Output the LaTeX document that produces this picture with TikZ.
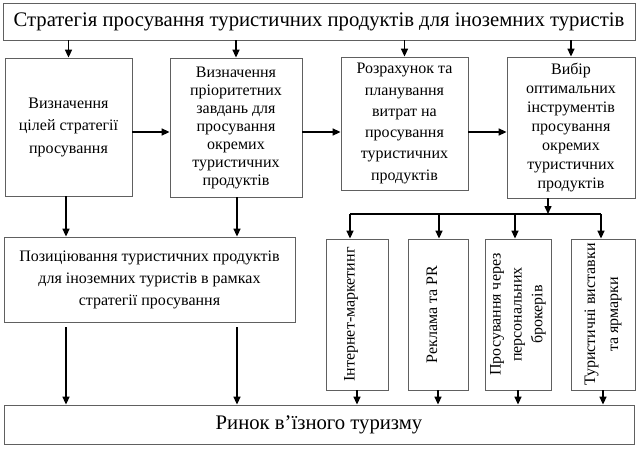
\documentclass[tikz,border=0pt]{standalone}
\usepackage{fontspec}
\setmainfont{Liberation Serif}
\usetikzlibrary{arrows.meta}
\definecolor{boxgray}{HTML}{606060}
\begin{document}
\begin{tikzpicture}[x=1pt,y=-1pt,
  box/.style={draw=boxgray, line width=0.8pt, fill=white, inner sep=2pt, align=center},
  txt/.style={font=\fontsize{16}{#1}\selectfont},
  big/.style={font=\fontsize{20.7}{23}\selectfont},
  arr/.style={line width=1.5pt, -{Triangle[length=8pt,width=7pt]}},
  ln/.style={line width=1.5pt}]
\useasboundingbox (0,0) rectangle (640,450);
% top and bottom
\node[box, big, minimum width=632pt, minimum height=37pt] (T) at (319,21.5)
  {Стратегія просування туристичних продуктів для іноземних туристів};
\node[box, big, minimum width=630pt, minimum height=39pt] (M) at (319,424.5)
  {Ринок в’їзного туризму};
% row 1
\node[box, txt=22.5, minimum width=127pt, minimum height=138pt] (A) at (68.5,127)
  {Визначення\\цілей стратегії\\просування};
\node[box, txt=18, minimum width=132pt, minimum height=139pt] (B) at (236,127.5)
  {Визначення\\пріоритетних\\завдань для\\просування\\окремих\\туристичних\\продуктів};
\node[box, txt=21.3, minimum width=127pt, minimum height=133pt] (C) at (404.5,123.5)
  {Розрахунок та\\планування\\витрат на\\просування\\туристичних\\продуктів};
\node[box, txt=19, minimum width=128pt, minimum height=141pt] (D) at (571,127.5)
  {Вибір\\оптимальних\\інструментів\\просування\\окремих\\туристичних\\продуктів};
% positioning
\node[box, txt=22, minimum width=291pt, minimum height=85pt] (P) at (149.5,279.5)
  {Позиціювання туристичних продуктів\\для іноземних туристів в рамках\\стратегії просування};
% instruments
\node[box, minimum width=62pt, minimum height=151pt] (I1) at (357,314.5) {};
\node[box, minimum width=60pt, minimum height=151pt] (I2) at (438,314.5) {};
\node[box, minimum width=66pt, minimum height=151pt] (I3) at (518,314.5) {};
\node[box, minimum width=64pt, minimum height=151pt] (I4) at (603,314.5) {};
\node[rotate=90, align=center, txt=21] (t1) at ([xshift=-6pt]I1.center) {Інтернет-маркетинг};
\node[rotate=90, align=center, txt=21] (t2) at ([xshift=-6pt]I2.center) {Реклама та PR};
\node[rotate=90, align=center, txt=20.8] (t3) at (I3) {Просування через\\персональних\\брокерів};
\node[rotate=90, align=center, txt=23] (t4) at (I4) {Туристичні виставки\\та ярмарки};
% arrows from title
\foreach \n in {A,B,C,D} \draw[arr] (T.south -| \n.north) -- (\n.north);
% horizontal arrows
\coordinate (r) at (0,132);
\draw[arr] (A.east |- r) -- (B.west |- r);
\draw[arr] (B.east |- r) -- (C.west |- r);
\draw[arr] (C.east |- r) -- (D.west |- r);
% down to positioning
\coordinate (xa) at (66,0);
\coordinate (xb) at (237,0);
\draw[arr] (A.south -| xa) -- (P.north -| xa);
\draw[arr] (B.south -| xb) -- (P.north -| xb);
\draw[arr] ([yshift=-5pt]P.south -| xa) -- (M.north -| xa);
\draw[arr] ([yshift=-5pt]P.south -| xb) -- (M.north -| xb);
% distribution
\coordinate (h) at (548,214);
\coordinate (h1) at (350,214);
\coordinate (h2) at (439,214);
\coordinate (h3) at (515,214);
\coordinate (h4) at (601,214);
\draw[arr] (D.south -| h) -- (h);
\draw[ln] (h1) -- (h4);
\draw[arr] (h1) -- (h1 |- I1.north);
\draw[arr] (h2) -- (h2 |- I2.north);
\draw[arr] (h3) -- (h3 |- I3.north);
\draw[arr] (h4) -- (h4 |- I4.north);
\foreach \n in {I1,I2,I3,I4} \draw[arr] (\n.south) -- (M.north -| \n.south);
\end{tikzpicture}
\end{document}
